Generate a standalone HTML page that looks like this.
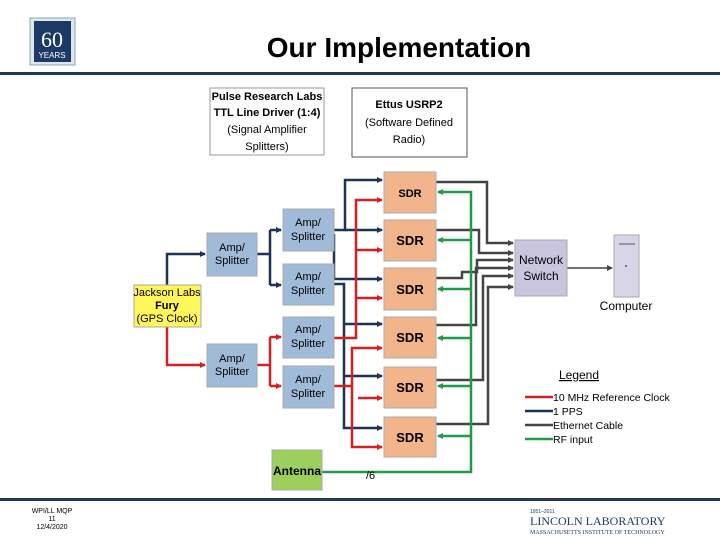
<!DOCTYPE html>
<html><head><meta charset="utf-8"><style>
body{margin:0;background:#fff;}
svg{display:block;font-family:"Liberation Sans",sans-serif;}
</style></head><body>
<svg width="720" height="540" viewBox="0 0 720 540" xmlns="http://www.w3.org/2000/svg">
<defs>
<marker id="ab" markerWidth="6" markerHeight="6" refX="5" refY="3" orient="auto" markerUnits="userSpaceOnUse"><path d="M0,0 L6,3 L0,6z" fill="#1b3358"/></marker>
<marker id="ar" markerWidth="6" markerHeight="6" refX="5" refY="3" orient="auto" markerUnits="userSpaceOnUse"><path d="M0,0 L6,3 L0,6z" fill="#d42020"/></marker>
<marker id="ag" markerWidth="6" markerHeight="6" refX="5" refY="3" orient="auto" markerUnits="userSpaceOnUse"><path d="M0,0 L6,3 L0,6z" fill="#1f9a4a"/></marker>
<marker id="ak" markerWidth="6" markerHeight="6" refX="5" refY="3" orient="auto" markerUnits="userSpaceOnUse"><path d="M0,0 L6,3 L0,6z" fill="#444"/></marker>
</defs>
<rect x="30" y="18" width="45" height="47" fill="#dfe6ee" stroke="#8aa" stroke-width="1"/>
<rect x="34" y="21" width="37" height="41" fill="#1c3a66"/>
<text x="52" y="47" fill="#fff" font-size="22" text-anchor="middle" font-family="Liberation Serif">60</text>
<text x="52" y="58" fill="#fff" font-size="8" text-anchor="middle">YEARS</text>
<text x="399" y="57" font-size="28" font-weight="bold" text-anchor="middle">Our Implementation</text>
<rect x="0" y="72" width="720" height="3" fill="#1f3a5a"/>
<rect x="0" y="498" width="720" height="3" fill="#1f3a5a"/>
<text x="52" y="513" font-size="7" text-anchor="middle">WPI/LL MQP</text>
<text x="52" y="521" font-size="7" text-anchor="middle">11</text>
<text x="52" y="529" font-size="7" text-anchor="middle">12/4/2020</text>
<text x="530" y="513" font-size="5" fill="#1c3a66">1951–2011</text>
<text x="530" y="525" font-size="12" fill="#1c3a66" font-family="Liberation Serif">LINCOLN LABORATORY</text>
<text x="530" y="534" font-size="6" fill="#1c3a66" font-family="Liberation Serif">MASSACHUSETTS INSTITUTE OF TECHNOLOGY</text>
<rect x="210" y="88" width="114" height="67" fill="#fff" stroke="#999"/>
<g font-size="11" text-anchor="middle"><text x="267" y="100" font-weight="bold">Pulse Research Labs</text><text x="267" y="116" font-weight="bold">TTL Line Driver (1:4)</text><text x="267" y="133">(Signal Amplifier</text><text x="267" y="150">Splitters)</text></g>
<rect x="352" y="88" width="115" height="69" fill="#fff" stroke="#555"/>
<g font-size="11" text-anchor="middle"><text x="409" y="108" font-weight="bold">Ettus USRP2</text><text x="409" y="126">(Software Defined</text><text x="409" y="143">Radio)</text></g>
<g fill="none" stroke-width="2.5">
<g stroke="#1b3358">
<path d="M167,285 V254 H205" marker-end="url(#ab)"/>
<path d="M257,254 H270"/><path d="M270,230 V285"/>
<path d="M270,230 H281" marker-end="url(#ab)"/><path d="M270,285 H281" marker-end="url(#ab)"/>
<path d="M334,230 H345 V180 H382" marker-end="url(#ab)"/>
<path d="M345,230 H382" marker-end="url(#ab)"/>
<path d="M334,234 V279 H382" marker-end="url(#ab)"/>
<path d="M334,284 H344 V428 H382" marker-end="url(#ab)"/>
<path d="M344,324 H382" marker-end="url(#ab)"/><path d="M344,376 H382" marker-end="url(#ab)"/>
</g>
<g stroke="#d42020">
<path d="M167,327 V365 H205" marker-end="url(#ar)"/>
<path d="M257,365 H270"/><path d="M270,337 V386"/>
<path d="M270,337 H281" marker-end="url(#ar)"/><path d="M270,386 H281" marker-end="url(#ar)"/>
<path d="M334,338 H356 V200 H382" marker-end="url(#ar)"/>
<path d="M356,250 H382" marker-end="url(#ar)"/><path d="M356,298 H382" marker-end="url(#ar)"/>
<path d="M334,386 H352 V348 H382" marker-end="url(#ar)"/>
<path d="M352,386 V447 H382" marker-end="url(#ar)"/>
<path d="M358,398 H382" marker-end="url(#ar)"/>
</g>
<g stroke="#444">
<path d="M436,182 H487 V243 H513" marker-end="url(#ak)"/>
<path d="M436,230 H479 V253 H513" marker-end="url(#ak)"/>
<path d="M436,278 H462 V272 H477 V260 H513" marker-end="url(#ak)"/>
<path d="M436,325 H476 V268 H513" marker-end="url(#ak)"/>
<path d="M436,380 H483 V276 H513" marker-end="url(#ak)"/>
<path d="M436,424 H488 V287 H513" marker-end="url(#ak)"/>
</g>
<g stroke="#1f9a4a">
<path d="M322,472 H471 V192 H438" marker-end="url(#ag)"/>
<path d="M471,240 H438" marker-end="url(#ag)"/><path d="M471,289 H438" marker-end="url(#ag)"/>
<path d="M471,338 H438" marker-end="url(#ag)"/><path d="M471,386 H438" marker-end="url(#ag)"/>
<path d="M471,436 H438" marker-end="url(#ag)"/>
</g>
<path d="M567,268 H612" stroke="#444" stroke-width="1.5" marker-end="url(#ak)"/>
</g>
<text x="366" y="479" font-size="11">/6</text>
<g stroke="#aaa" stroke-width="1">
<rect x="134" y="285" width="67" height="42" fill="#fef65a"/>
<rect x="207" y="233" width="50" height="43" fill="#9fbbd8"/>
<rect x="207" y="344" width="50" height="43" fill="#9fbbd8"/>
<rect x="283" y="209" width="51" height="42" fill="#9fbbd8"/>
<rect x="283" y="264" width="51" height="41" fill="#9fbbd8"/>
<rect x="283" y="317" width="51" height="41" fill="#9fbbd8"/>
<rect x="283" y="366" width="51" height="42" fill="#9fbbd8"/>
<rect x="384" y="172" width="52" height="41" fill="#f2b48a"/>
<rect x="384" y="220" width="52" height="41" fill="#f2b48a"/>
<rect x="384" y="268" width="52" height="42" fill="#f2b48a"/>
<rect x="384" y="317" width="52" height="41" fill="#f2b48a"/>
<rect x="384" y="367" width="52" height="41" fill="#f2b48a"/>
<rect x="384" y="417" width="52" height="40" fill="#f2b48a"/>
<rect x="272" y="450" width="50" height="40" fill="#9ccf5c"/>
<rect x="515" y="240" width="52" height="56" fill="#c9c5de"/>
<rect x="614" y="235" width="25" height="62" fill="#d8d6e6"/>
</g>
<g font-size="11" text-anchor="middle">
<text x="167" y="296">Jackson Labs</text><text x="167" y="309" font-weight="bold">Fury</text><text x="167" y="322">(GPS Clock)</text>
<text x="232" y="251">Amp/</text><text x="232" y="264">Splitter</text>
<text x="232" y="362">Amp/</text><text x="232" y="375">Splitter</text>
<text x="308" y="226">Amp/</text><text x="308" y="240">Splitter</text>
<text x="308" y="280">Amp/</text><text x="308" y="294">Splitter</text>
<text x="308" y="333">Amp/</text><text x="308" y="347">Splitter</text>
<text x="308" y="383">Amp/</text><text x="308" y="397">Splitter</text>
<g font-weight="bold" font-size="13"><text x="410" y="197" font-size="11">SDR</text><text x="410" y="245">SDR</text><text x="410" y="294">SDR</text><text x="410" y="342">SDR</text><text x="410" y="392">SDR</text><text x="410" y="442">SDR</text></g>
<text x="297" y="475" font-weight="bold" font-size="12">Antenna</text>
<text x="541" y="264" font-size="12">Network</text><text x="541" y="280" font-size="12">Switch</text>
<text x="626" y="310" font-size="12">Computer</text>
</g>
<line x1="619" y1="244" x2="635" y2="244" stroke="#555" stroke-width="1"/>
<circle cx="626" cy="266" r="1" fill="#555"/>
<text x="579" y="379" font-size="12" text-anchor="middle" text-decoration="underline">Legend</text>
<g stroke-width="2.5"><line x1="525" y1="397" x2="553" y2="397" stroke="#d42020"/><line x1="525" y1="411" x2="553" y2="411" stroke="#1b3358"/><line x1="525" y1="425" x2="553" y2="425" stroke="#444"/><line x1="525" y1="439" x2="553" y2="439" stroke="#1f9a4a"/></g>
<g font-size="10.5"><text x="553" y="401">10 MHz Reference Clock</text><text x="553" y="415">1 PPS</text><text x="553" y="429">Ethernet Cable</text><text x="553" y="443">RF input</text></g>
</svg>
</body></html>
